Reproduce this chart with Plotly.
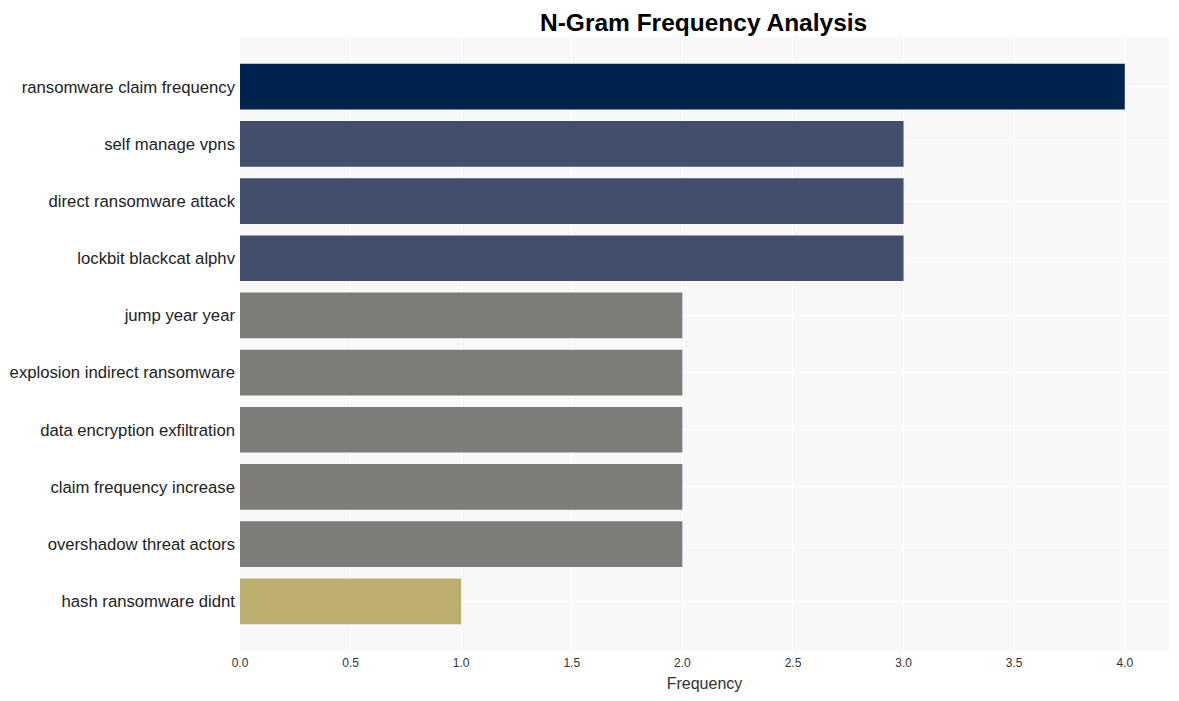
import plotly.graph_objects as go

ngrams = [
    "ransomware claim frequency",
    "self manage vpns",
    "direct ransomware attack",
    "lockbit blackcat alphv",
    "jump year year",
    "explosion indirect ransomware",
    "data encryption exfiltration",
    "claim frequency increase",
    "overshadow threat actors",
    "hash ransomware didnt",
]
frequency = [4, 3, 3, 3, 2, 2, 2, 2, 2, 1]
color_by_value = {4: "#00224e", 3: "#434e6c", 2: "#7d7c78", 1: "#bcaf6f"}
colors = [color_by_value[v] for v in frequency]

fig = go.Figure(
    go.Bar(
        x=frequency,
        y=ngrams,
        orientation="h",
        marker=dict(color=colors, line=dict(width=0)),
        width=0.8,
    )
)

fig.update_layout(
    width=1179,
    height=701,
    paper_bgcolor="white",
    plot_bgcolor="#f8f8f8",
    font=dict(family="Liberation Sans, Arial, sans-serif", color="#222222"),
    title=dict(
        text="<b>N-Gram Frequency Analysis</b>",
        x=0.590,
        xanchor="center",
        y=0.979,
        yanchor="middle",
        font=dict(size=24.5, color="black"),
    ),
    margin=dict(l=232, r=18, t=29, b=58),
    showlegend=False,
    bargap=0.2,
)

fig.update_xaxes(
    range=[0, 4.2],
    dtick=0.5,
    tickformat=".1f",
    showgrid=True,
    gridcolor="white",
    gridwidth=1,
    zeroline=False,
    tickfont=dict(size=12, color="#333333"),
    title=dict(text="Frequency", font=dict(size=16, color="#333333"), standoff=8),
    ticks="",
    ticklabelstandoff=3,
    automargin=False,
)
fig.update_yaxes(
    autorange=False,
    range=[9.87, -0.87],
    categoryorder="array",
    categoryarray=ngrams,
    showgrid=True,
    gridcolor="white",
    tickfont=dict(size=16.7, color="#222222"),
    ticks="",
    ticklabelstandoff=4,
    automargin=False,
)

fig.write_html("out.html")
